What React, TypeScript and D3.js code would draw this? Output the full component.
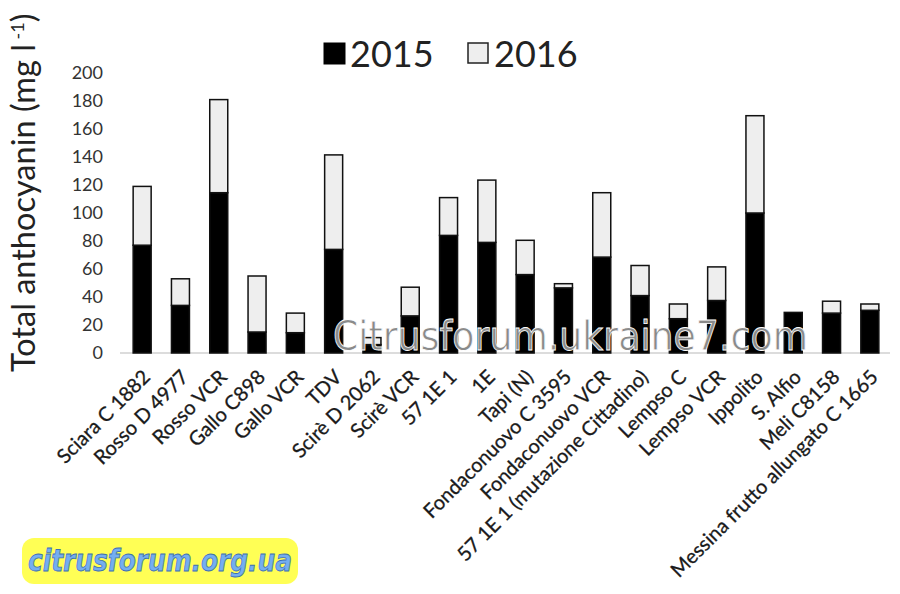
import React from "react";
import * as d3 from "d3";

// Cultivars / clones along the x axis
const categories = [
  "Sciara C 1882",
  "Rosso D 4977",
  "Rosso VCR",
  "Gallo C898",
  "Gallo VCR",
  "TDV",
  "Scirè D 2062",
  "Scirè VCR",
  "57 1E 1",
  "1E",
  "Tapi (N)",
  "Fondaconuovo C 3595",
  "Fondaconuovo VCR",
  "57 1E 1 (mutazione Cittadino)",
  "Lempso C",
  "Lempso VCR",
  "Ippolito",
  "S. Alfio",
  "Meli C8158",
  "Messina frutto allungato C 1665",
];

// Total anthocyanin (mg l-1) per season
const values2015 = [77, 34, 114.5, 15, 14.5, 74, 6, 26.5, 84, 79, 56, 46.5, 68.5, 41, 24.5, 37.5, 100, 29, 28.5, 30.5];
const values2016 = [42, 19, 66.5, 40, 14, 67.5, 5, 20.5, 27, 44.5, 24.5, 3, 46, 21.5, 10.5, 24, 69.5, 0, 8.5, 4.5];

const seriesNames = ["2015", "2016"];
const yTicks = [0, 20, 40, 60, 80, 100, 120, 140, 160, 180, 200];

const W = 900;
const H = 594;
const FONT = "Lato, 'Open Sans', sans-serif";

export default function App() {
  const x = d3
    .scaleBand<string>()
    .domain(categories)
    .range([123, 889])
    .paddingInner(0.53)
    .paddingOuter(0.265);
  const y = d3.scaleLinear().domain([0, 200]).range([353, 73]);

  const rows = categories.map((c, i) => ({ c, a: values2015[i], b: values2016[i] }));
  const stacked = d3.stack<any>().keys(["a", "b"])(rows);
  const fills = ["#000000", "#eeeeee"];

  return (
    <svg
      width={W}
      height={H}
      style={{ position: "absolute", left: 0, top: 0, background: "#fff" }}
    >
      <rect x={0} y={0} width={W} height={H} fill="#fff" />

      {/* legend */}
      <g fontFamily={FONT} fontSize={36} fill="#222">
        <rect x={324} y={43} width={21} height={21} fill="#000" stroke="#000" />
        <text x={350} y={67}>{seriesNames[0]}</text>
        <rect x={468} y={43} width={20} height={20} fill="#eeeeee" stroke="#222" strokeWidth={1.5} />
        <text x={494} y={67}>{seriesNames[1]}</text>
      </g>

      {/* y axis title */}
      <text
        transform="translate(35,372) rotate(-90)"
        fontFamily={FONT}
        fontSize={32.5}
        fill="#222"
      >
        Total anthocyanin (mg l
        <tspan fontSize={18} dy={-11}> -1</tspan>
        <tspan dy={11}>)</tspan>
      </text>

      {/* y tick labels */}
      <g fontFamily={FONT} fontSize={18} fill="#333" textAnchor="end">
        {yTicks.map((t) => (
          <text key={t} x={103} y={y(t)} dy="0.35em">
            {t}
          </text>
        ))}
      </g>

      {/* baseline */}
      <line x1={120} x2={890} y1={y(0)} y2={y(0)} stroke="#d0d0d0" strokeWidth={1.5} />

      {/* stacked bars */}
      {stacked.map((layer, li) => (
        <g key={li} fill={fills[li]} stroke="#111" strokeWidth={1.5}>
          {layer.map((d, i) => {
            const h = y(d[0]) - y(d[1]);
            if (h <= 0) return null;
            return (
              <rect
                key={i}
                x={x(categories[i])!}
                y={y(d[1])}
                width={x.bandwidth()}
                height={h}
              />
            );
          })}
        </g>
      ))}

      {/* category labels */}
      <g fontFamily={FONT} fontSize={20} fill="#1a1a1a" stroke="#1a1a1a" strokeWidth={0.3} textAnchor="end">
        {categories.map((c) => (
          <text
            key={c}
            transform={`translate(${x(c)! + x.bandwidth() / 2 + 3},${372}) rotate(-45)`}
            dy="0.45em"
          >
            {c}
          </text>
        ))}
      </g>

      {/* site watermarks */}
      <text
        x={333}
        y={350}
        fontFamily="'DejaVu Sans', sans-serif"
        fontSize={40}
        fill="#8a8a8a"
        stroke="#ffffff"
        strokeWidth={0.8}
        textLength={475}
        lengthAdjust="spacingAndGlyphs"
      >
        Citrusforum.ukraine7.com
      </text>

      <g>
        <rect x={22} y={538} width={276} height={46} rx={12} fill="#ffff55" />
        <text
          x={28}
          y={571}
          fontFamily="'DejaVu Sans', sans-serif"
          fontSize={30}
          fontStyle="italic"
          fontWeight="bold"
          fill="#74aef0"
          stroke="#3d6fb0"
          strokeWidth={0.8}
          textLength={264}
          lengthAdjust="spacingAndGlyphs"
        >
          citrusforum.org.ua
        </text>
      </g>
    </svg>
  );
}
